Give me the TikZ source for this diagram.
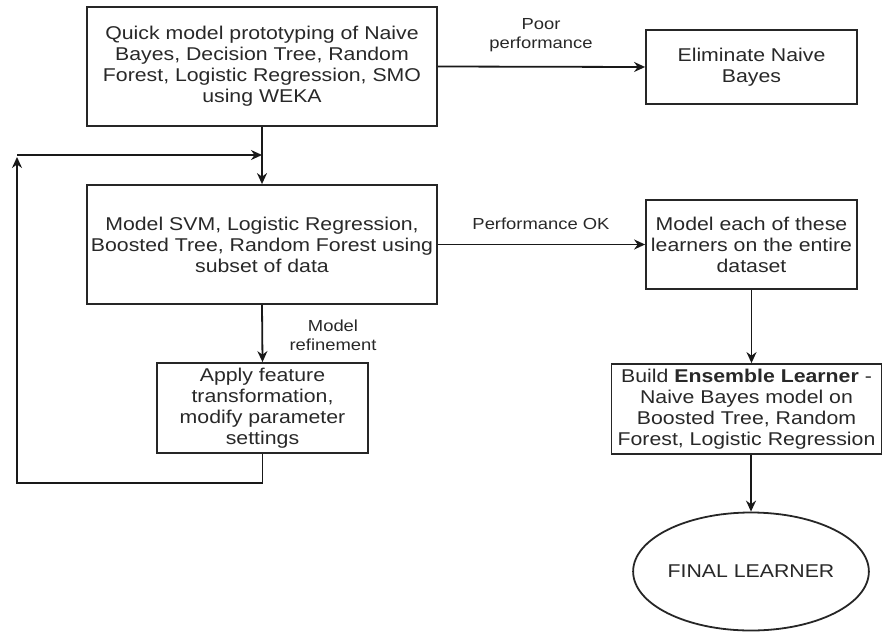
\documentclass[tikz,border=0pt]{standalone}
\usepackage{fontspec}
\setmainfont[FakeStretch=1.15]{Liberation Sans}
\usetikzlibrary{arrows.meta,shapes.geometric}
\definecolor{txt}{RGB}{40,40,40}
\begin{document}
\begin{tikzpicture}[x=1pt,y=-1pt,
  box/.style={draw=black!85, line width=1.8pt, rectangle, align=center, inner sep=0pt, text=txt,
    font=\fontsize{18.5}{21}\selectfont},
  lbl/.style={align=center, text=txt, font=\fontsize{16}{19}\selectfont, inner sep=0pt},
  arr/.style={draw=black!90, line width=1.8pt, -{Stealth[length=11pt,width=10pt]}},
  ln/.style={draw=black, line width=1.8pt}]
\useasboundingbox (0,0) rectangle (883,632);
\node[box, minimum width=350, minimum height=119] (b1) at (262,66.5)
  {Quick model prototyping of Naive\\Bayes, Decision Tree, Random\\Forest, Logistic Regression, SMO\\using WEKA};
\node[box, minimum width=211, minimum height=74] (b2) at (751.5,67)
  {Eliminate Naive\\Bayes};
\node[box, minimum width=350, minimum height=119] (b3) at (262,244.5)
  {Model SVM, Logistic Regression,\\Boosted Tree, Random Forest using\\subset of data};
\node[box, minimum width=211, minimum height=89] (b5) at (751.5,244.5)
  {Model each of these\\learners on the entire\\dataset};
\node[box, minimum width=211, minimum height=90] (b4) at (262.5,408)
  {Apply feature\\transformation,\\modify parameter\\settings};
\node[box, minimum width=270, minimum height=90] (b6) at (746.5,409)
  {Build \textbf{Ensemble Learner} -\\Naive Bayes model on\\Boosted Tree, Random\\Forest, Logistic Regression};
\node[box, ellipse, minimum width=212, minimum height=118] (b7) at (751,571.5)
  {FINAL LEARNER};
\node[lbl] (l1) at (541,35) {Poor\\performance};
\node[lbl] (l2) at (541,224) {Performance OK};
\node[lbl] (l3) at (333,335) {Model\\refinement};
\coordinate (fbA) at (17,157);
\coordinate (fbB) at (17,155);
\draw[arr] (b1.east) -- (b2.west);
\draw[arr] (b1.south) -- (b3.north);
\draw[arr] (b3.east) -- (b3.east -| b5.west);
\draw[arr] (b3.south) -- (b4.north);
\draw[arr] (b5.south) -- (b5.south |- b6.north);
\draw[arr] (b7.north |- b6.south) -- (b7.north);
\draw[arr] (b4.south) -- ++(0,29) -| (fbA);
\draw[arr] (fbB) -- (b1.south |- fbB);
\end{tikzpicture}
\end{document}
